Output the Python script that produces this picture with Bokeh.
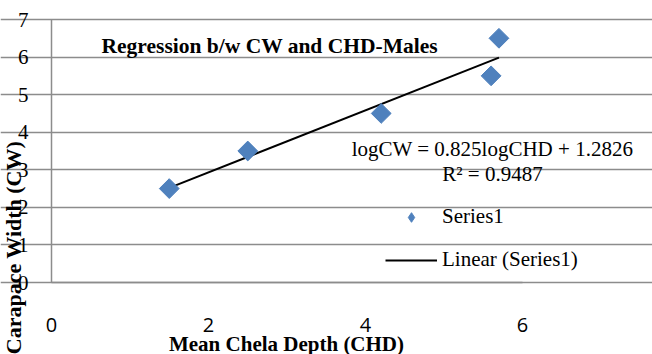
import math
import numpy as np
from bokeh.plotting import figure
from bokeh.models import (Range1d, Label, Legend, LegendItem, FixedTicker,
                          LinearAxis, Grid)
from bokeh.embed import file_html
from bokeh.resources import INLINE

# data
chd = [1.5, 2.5, 4.2, 5.6, 5.7]          # Mean Chela Depth (CHD)
cw = [2.5, 3.5, 4.5, 5.5, 6.5]           # Carapace Width (CW)
x_ticks = [0, 2, 4, 6]
y_ticks = [0, 1, 2, 3, 4, 5, 6, 7]
title_text = "Regression b/w CW and CHD-Males"
eq_text = "logCW = 0.825logCHD + 1.2826"
r2_text = "R\u00b2 = 0.9487"
x_title = "Mean Chela Depth (CHD)"
y_title = "Carapace Width (CW)"

# linear trend (least squares from the data)
slope, intercept = np.polyfit(chd, cw, 1)
trend_x = [min(chd), max(chd)]
trend_y = [slope * v + intercept for v in trend_x]

SERIF = "Liberation Serif"
GRID = "#8c8c8c"
BLUE = "#4f81bd"

# layout (pixels): the frame covers the whole canvas; the axes sit at x=0 / y=0
W, H = 652, 354
X0_PX, X6_PX = 51, 522       # where x=0 and x=6 fall
Y0_PX, Y7_PX = 282, 19       # where y=0 and y=7 fall
xu = (X6_PX - X0_PX) / 6.0
yu = (Y0_PX - Y7_PX) / 7.0
x_range = Range1d(-X0_PX / xu, (W - X0_PX) / xu)
y_range = Range1d(-(H - Y0_PX) / yu, 7 + Y7_PX / yu)

p = figure(width=W, height=H, x_range=x_range, y_range=y_range,
           x_axis_type=None, y_axis_type=None,
           output_backend="svg", toolbar_location=None,
           min_border=0, min_border_left=0, min_border_right=0,
           min_border_top=0, min_border_bottom=0)
p.outline_line_color = None
p.background_fill_color = "white"
p.border_fill_color = "white"

grid = Grid(dimension=1, ticker=FixedTicker(ticks=y_ticks), bounds=(0, 6),
            grid_line_color=GRID, grid_line_width=1.5)
p.add_layout(grid)

xaxis = LinearAxis(ticker=FixedTicker(ticks=x_ticks), fixed_location=0, bounds=(0, 6))
yaxis = LinearAxis(ticker=FixedTicker(ticks=y_ticks), fixed_location=0, bounds=(0, 7))
for ax in (xaxis, yaxis):
    ax.axis_line_color = GRID
    ax.axis_line_width = 1.5
    ax.major_tick_line_color = None
    ax.minor_tick_line_color = None
    ax.major_label_text_color = "black"
xaxis.major_label_text_font = "Open Sans"
xaxis.major_label_text_font_size = "20px"
xaxis.major_label_standoff = 29
yaxis.major_label_text_font = SERIF
yaxis.major_label_text_font_size = "21px"
yaxis.major_label_standoff = 17
p.add_layout(xaxis, "below")
p.add_layout(yaxis, "left")

line_r = p.line(trend_x, trend_y, line_color="black", line_width=2)
# legend swatch for the points (a diamond, as in the reference); hidden under the markers
swatch_r = p.scatter(chd, cw, marker="diamond", size=2,
                     fill_color=BLUE, line_color=BLUE)
pts_r = p.scatter(chd, cw, marker="square", size=14, angle=math.pi / 4,
                  fill_color=BLUE, line_color=BLUE)

legend = Legend(items=[LegendItem(label="Series1", renderers=[swatch_r]),
                       LegendItem(label="Linear (Series1)", renderers=[line_r])],
                location=(385, H - 272), padding=0, margin=0, spacing=18,
                glyph_width=52, glyph_height=24, label_height=24, label_standoff=5,
                label_text_font=SERIF, label_text_font_size="21px",
                label_text_color="black",
                background_fill_alpha=0, border_line_color=None)
p.add_layout(legend, "center")

def add_label(text, x, y, size="21px", **kw):
    p.add_layout(Label(x=x, y=H - y, x_units="screen", y_units="screen", text=text,
                       text_font=SERIF, text_font_size=size, text_baseline="middle",
                       text_color="black", **kw))

add_label(title_text, 101, 45, size="21.5px", text_font_style="bold", text_align="left")
add_label(eq_text, 492, 148, text_align="center")
add_label(r2_text, 492, 173, text_align="center")
add_label(x_title, 286, 343, text_font_style="bold", text_align="center")
add_label(y_title, 13, 247, size="22px", text_font_style="bold", text_align="center",
          angle=math.pi / 2)

open("out.html", "w").write(file_html(p, INLINE))
